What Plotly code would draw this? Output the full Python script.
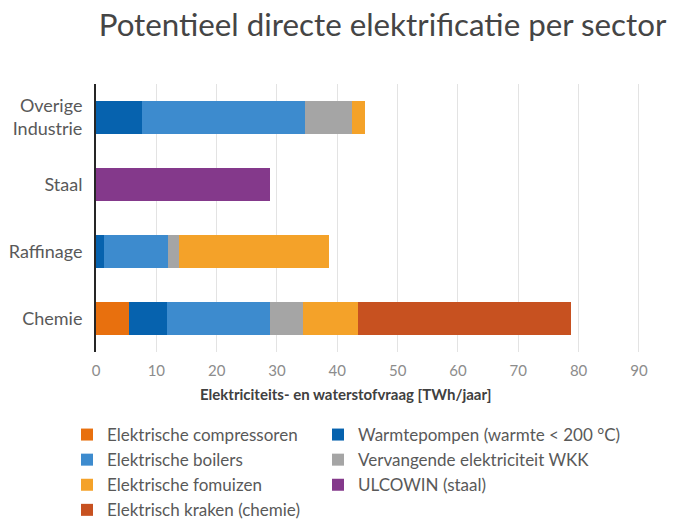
import plotly.graph_objects as go

sectors = ["Chemie", "Raffinage", "Staal", "Overige<br>Industrie"]

series_names = [
    "Elektrische compressoren",
    "Warmtepompen (warmte < 200 °C)",
    "Elektrische boilers",
    "Vervangende elektriciteit WKK",
    "Elektrische fomuizen",
    "ULCOWIN (staal)",
    "Elektrisch kraken (chemie)",
]
legend_column = ["legend", "legend2", "legend", "legend2", "legend", "legend2", "legend"]

compressoren = [5.4, 0, 0, 0]
warmtepompen = [6.4, 1.3, 0, 7.7]
boilers = [17.1, 10.7, 0, 26.9]
wkk = [5.4, 1.8, 0, 7.8]
fornuizen = [9.1, 24.9, 0, 2.2]
ulcowin = [0, 0, 28.8, 0]
kraken = [35.3, 0, 0, 0]

series_values = [compressoren, warmtepompen, boilers, wkk, fornuizen, ulcowin, kraken]
colors = ["#E8700E", "#0662AE", "#3D8BCE", "#A5A5A5", "#F4A229", "#84398B", "#C75120"]

x_ticks = [0, 10, 20, 30, 40, 50, 60, 70, 80, 90]
x_title = "Elektriciteits- en waterstofvraag [TWh/jaar]"
chart_title = "Potentieel directe elektrificatie per sector"

fig = go.Figure()
for name, vals, col, lg in zip(series_names, series_values, colors, legend_column):
    fig.add_trace(go.Bar(
        y=sectors, x=vals, name=name, orientation="h", legend=lg,
        marker=dict(color=col, line=dict(width=0)),
    ))

legend_style = dict(orientation="v", xanchor="left", yanchor="top",
                    xref="container", yref="container",
                    traceorder="normal", font=dict(size=17, color="#595959"),
                    bgcolor="rgba(0,0,0,0)", borderwidth=0)

fig.update_layout(
    barmode="stack",
    bargap=0.52,
    width=673, height=519,
    margin=dict(l=96, r=22, t=84, b=167, pad=0, autoexpand=False),
    paper_bgcolor="white", plot_bgcolor="white",
    font=dict(family="Lato", color="#595959"),
    title=dict(text=chart_title,
               x=382.5/673, xanchor="center", y=1 - 25/519, yanchor="middle",
               font=dict(size=31.3, color="#454545", family="Lato")),
    xaxis=dict(range=[0, 92], tickvals=x_ticks, showgrid=True, gridcolor="#E3E3E3",
               gridwidth=1, zeroline=False, showline=False,
               tickfont=dict(size=15, color="#8C8C8C"), ticks="", ticklabelstandoff=8),
    yaxis=dict(showline=True, linecolor="#262626", linewidth=2, showgrid=False,
               tickfont=dict(size=18, color="#595959"), ticks="", ticklabelstandoff=8),
    legend=dict(x=67/673, y=1 - 417/519, **legend_style),
    legend2=dict(x=318/673, y=1 - 417/519, **legend_style),
    showlegend=True,
    annotations=[dict(text="<b>" + x_title + "</b>", xref="paper", yref="paper",
                      x=(345 - 96) / 555, y=-(393 - 351.5) / 268,
                      xanchor="center", yanchor="middle", showarrow=False,
                      font=dict(size=15, color="#404040", family="Lato"))],
)

fig.write_html("out.html")
